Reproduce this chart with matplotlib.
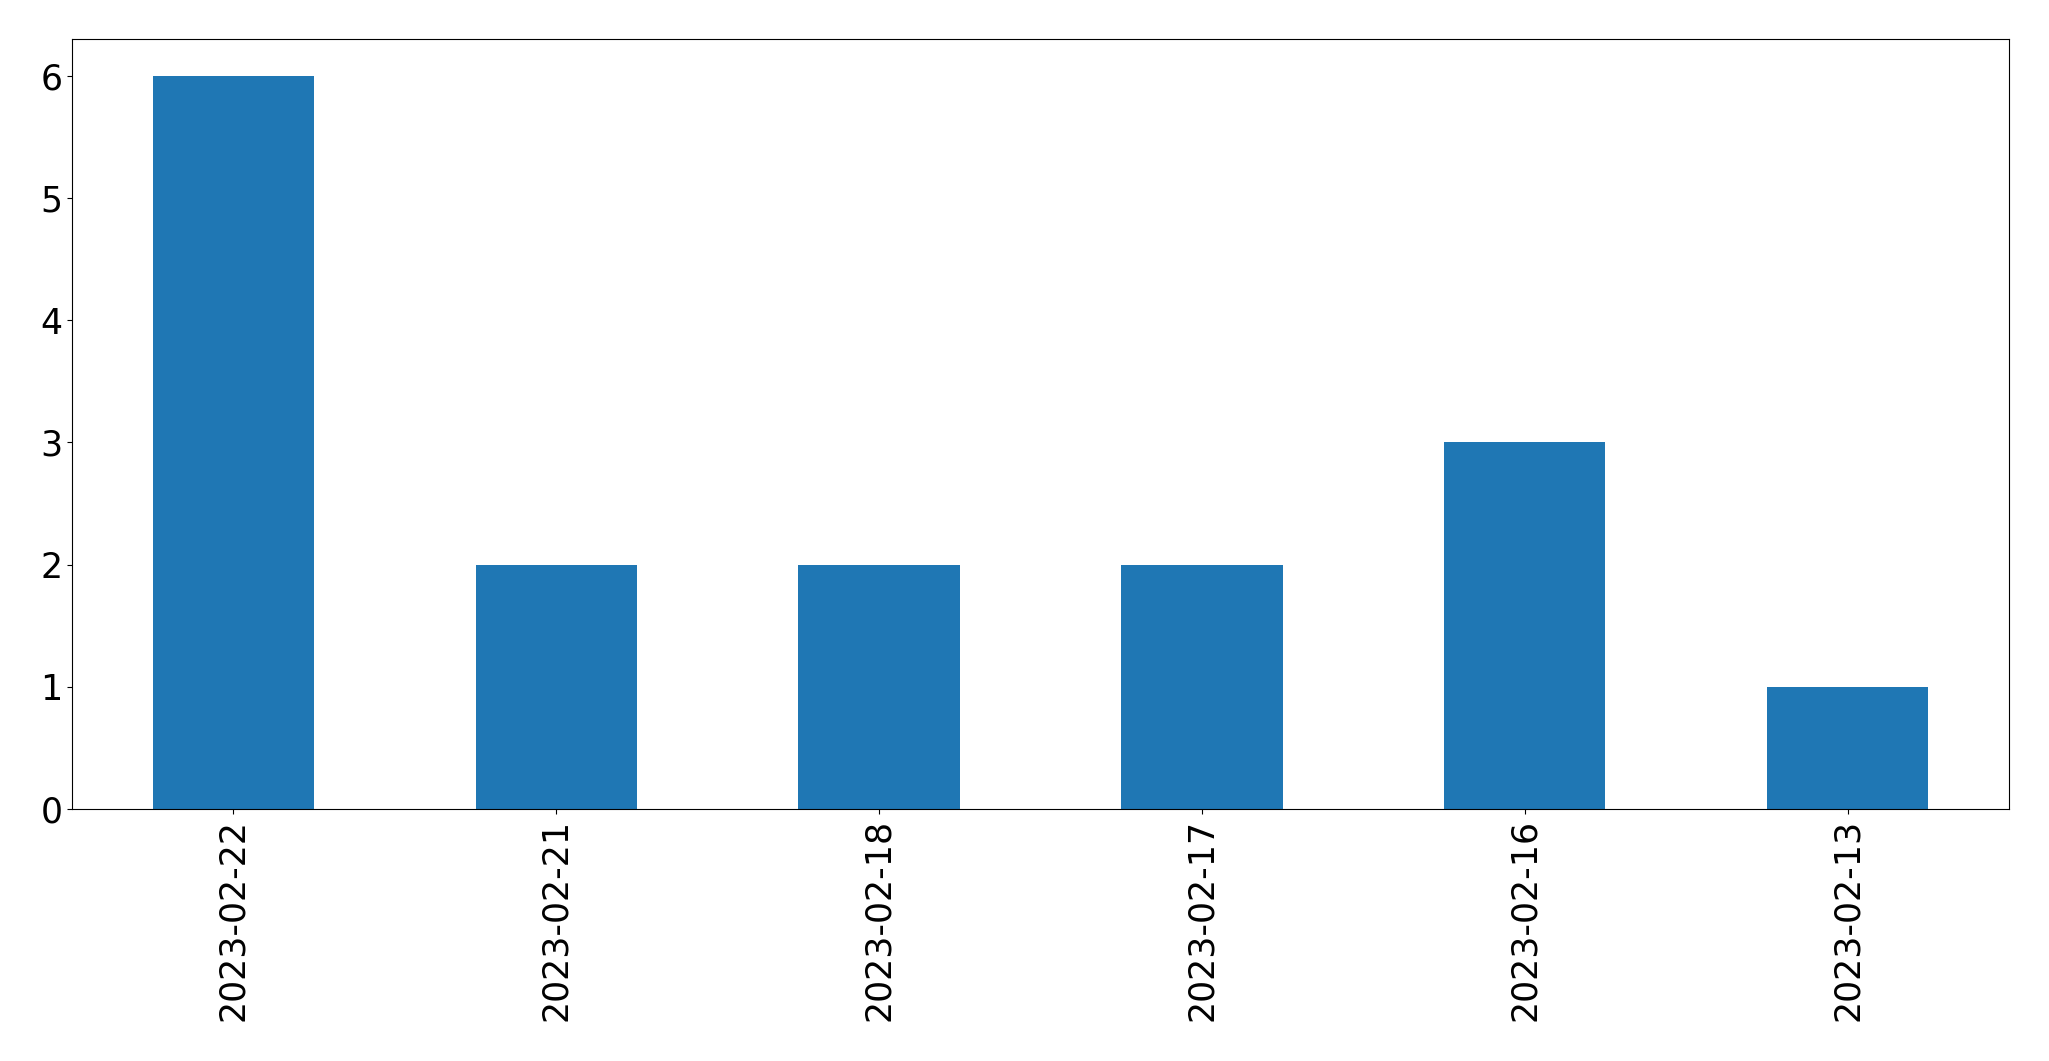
import matplotlib
matplotlib.use("Agg")
import matplotlib.pyplot as plt
import pandas as pd

# counts per day
dates = ["2023-02-22", "2023-02-21", "2023-02-18", "2023-02-17", "2023-02-16", "2023-02-13"]
counts = [6, 2, 2, 2, 3, 1]

s = pd.Series(counts, index=dates)

fig = plt.figure(figsize=(20.49, 10.61), dpi=100)
ax = fig.add_axes([72 / 2049, 1 - 809 / 1061, (2009 - 72) / 2049, (809 - 39) / 1061])
s.plot(kind="bar", ax=ax, color="#1f77b4", fontsize=25)
ax.tick_params(axis="both", labelsize=25)

fig.savefig("out.png", dpi=100)
